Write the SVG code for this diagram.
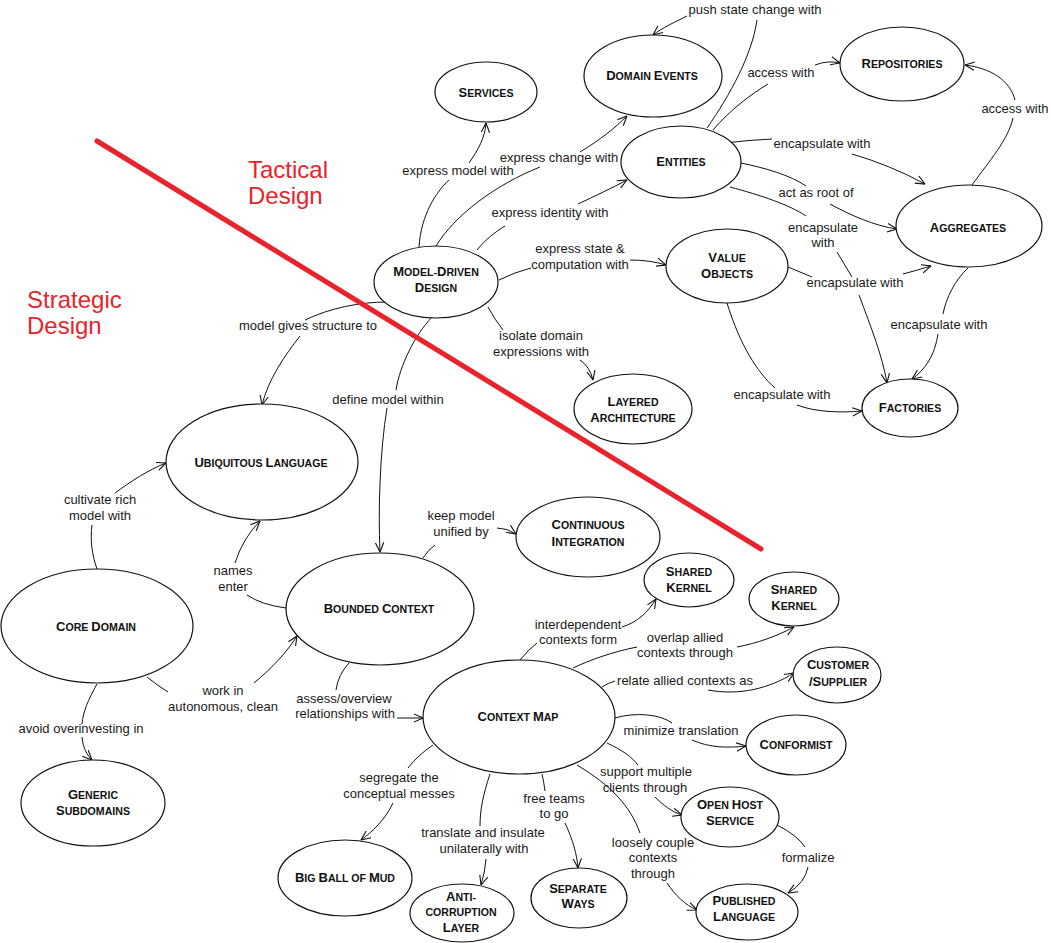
<svg xmlns="http://www.w3.org/2000/svg" width="1051" height="943" viewBox="0 0 1051 943">
<defs>
<marker id="arr" viewBox="0 0 10 10" refX="9.5" refY="5" markerWidth="10" markerHeight="10" markerUnits="userSpaceOnUse" orient="auto">
<path d="M0,0.8 L9.5,5 L0,9.2" fill="none" stroke="#111" stroke-width="1.1"/>
</marker>
<style>
.e{fill:none;stroke:#111;stroke-width:1}
.a{marker-end:url(#arr)}
.l{font-family:"Liberation Sans",Arial,sans-serif;font-size:13px;fill:#1a1a1a;text-anchor:middle}
.nd ellipse{fill:#fff;stroke:#111;stroke-width:1.2}
.n{font-family:"Liberation Sans",Arial,sans-serif;font-size:13px;font-weight:bold;fill:#111;text-anchor:middle}
.s{font-size:10.6px}
.red{font-family:"Liberation Sans",Arial,sans-serif;font-size:24px;fill:#e8232b}
</style>
</defs>
<rect width="1051" height="943" fill="#fff"/>

<g id="connectors">
<g id="e-mdd-services"><path class="e" d="M419,247 C421,215 436,192 449,180"/><path class="e a" d="M469,163 C478,150 485,138 486,123"/><text class="l" x="458" y="175">express model with</text></g>
<g id="e-mdd-events"><path class="e" d="M436,246 C455,215 495,185 540,167"/><path class="e a" d="M580,152 C600,140 615,128 627,116"/><text class="l" x="559" y="162">express change with</text></g>
<g id="e-mdd-entities"><path class="e" d="M477,250 C485,240 495,232 505,226"/><path class="e a" d="M578,204 C595,196 612,188 627,180"/><text class="l" x="550" y="217">express identity with</text></g>
<g id="e-mdd-vo"><path class="e" d="M499,280 Q515,272 531,268"/><path class="e a" d="M630,260 Q650,260 666,265"/><text class="l" x="580" y="253">express state &amp;</text><text class="l" x="580" y="269">computation with</text></g>
<g id="e-mdd-layered"><path class="e" d="M488,307 Q495,320 503,330"/><path class="e a" d="M580,360 Q590,367 593,380"/><text class="l" x="541" y="340">isolate domain</text><text class="l" x="541" y="356">expressions with</text></g>
<g id="e-mdd-ul"><path class="e" d="M387,302 C360,302 330,308 305,320"/><path class="e a" d="M300,336 C285,355 268,380 262,405"/><text class="l" x="308" y="330">model gives structure to</text></g>
<g id="e-mdd-bc"><path class="e" d="M432,317 C415,335 400,365 396,390"/><path class="e a" d="M387,408 C380,450 378,510 380,552"/><text class="l" x="388" y="404">define model within</text></g>
<g id="e-entities-events"><path class="e" d="M707,128 C730,95 752,55 757,20"/><path class="e a" d="M687,16 C675,22 662,28 653,35"/><text class="l" x="755" y="14">push state change with</text></g>
<g id="e-entities-repos"><path class="e" d="M713,130 C730,110 750,95 768,84"/><path class="e a" d="M815,65 Q828,60 840,63"/><text class="l" x="781" y="77">access with</text></g>
<g id="e-entities-agg1"><path class="e" d="M724,143 Q750,140 772,139"/><path class="e a" d="M852,154 Q890,165 925,184"/><text class="l" x="822" y="148">encapsulate with</text></g>
<g id="e-entities-agg2"><path class="e" d="M741,163 C765,168 790,175 806,186"/><path class="e a" d="M830,204 C850,215 875,226 897,229"/><text class="l" x="816" y="197">act as root of</text></g>
<g id="e-entities-factories"><path class="e" d="M730,187 C760,195 790,205 806,216"/><path class="e" d="M837,252 L852,277"/><path class="e a" d="M859,295 C872,330 882,355 887,383"/><text class="l" x="823" y="232">encapsulate</text><text class="l" x="823" y="247">with</text></g>
<g id="e-vo-agg"><path class="e" d="M788,267 Q800,272 812,277"/><path class="e a" d="M903,274 Q918,270 931,266"/><text class="l" x="855" y="287">encapsulate with</text></g>
<g id="e-vo-factories"><path class="e" d="M727,303 C740,345 757,372 775,388"/><path class="e a" d="M797,405 C815,412 840,413 862,411"/><text class="l" x="782" y="399">encapsulate with</text></g>
<g id="e-agg-factories"><path class="e" d="M968,268 C955,280 946,298 943,314"/><path class="e a" d="M938,334 C935,355 925,370 912,379"/><text class="l" x="939" y="329">encapsulate with</text></g>
<g id="e-agg-repos"><path class="e" d="M972,185 C990,160 1008,140 1013,118"/><path class="e a" d="M1015,100 C1010,80 990,68 965,65"/><text class="l" x="1015" y="113">access with</text></g>
<g id="e-core-ul"><path class="e" d="M97,569 C92,555 90,540 92,525"/><path class="e a" d="M115,493 C130,482 148,470 166,463"/><text class="l" x="100" y="504">cultivate rich</text><text class="l" x="100" y="520">model with</text></g>
<g id="e-bc-ul"><path class="e" d="M286,608 Q262,605 247,595"/><path class="e a" d="M235,563 Q243,538 260,521"/><text class="l" x="233" y="575">names</text><text class="l" x="233" y="591">enter</text></g>
<g id="e-core-bc"><path class="e" d="M147,677 Q158,686 168,692"/><path class="e a" d="M254,683 C272,668 287,652 297,636"/><text class="l" x="223" y="695">work in</text><text class="l" x="223" y="711">autonomous, clean</text></g>
<g id="e-core-generic"><path class="e" d="M97,684 C88,700 83,712 82,724"/><path class="e a" d="M82,737 C83,748 87,755 92,760"/><text class="l" x="81" y="733">avoid overinvesting in</text></g>
<g id="e-bc-ci"><path class="e" d="M423,558 Q428,550 435,545"/><path class="e a" d="M497,528 Q507,528 516,534"/><text class="l" x="461" y="520">keep model</text><text class="l" x="461" y="536">unified by</text></g>
<g id="e-bc-cm"><path class="e" d="M349,663 Q338,675 336,690"/><path class="e a" d="M397,718 L423,718"/><text class="l" x="344" y="703">assess/overview</text><text class="l" x="345" y="718">relationships with</text></g>
<g id="e-cm-sk1"><path class="e" d="M520,660 Q528,650 537,643"/><path class="e a" d="M622,627 C638,622 648,612 656,599"/><text class="l" x="578" y="629">interdependent</text><text class="l" x="578" y="644">contexts form</text></g>
<g id="e-cm-sk2"><path class="e" d="M573,668 C590,660 612,652 637,647"/><path class="e a" d="M737,647 C758,643 777,636 794,627"/><text class="l" x="685" y="642">overlap allied</text><text class="l" x="685" y="657">contexts through</text></g>
<g id="e-cm-cs"><path class="e" d="M602,687 Q608,683 615,681"/><path class="e a" d="M708,690 C740,696 770,688 794,673"/><text class="l" x="685" y="685">relate allied contexts as</text></g>
<g id="e-cm-conformist"><path class="e" d="M615,718 C635,712 660,714 672,723"/><path class="e a" d="M692,740 C710,748 728,748 746,746"/><text class="l" x="681" y="735">minimize translation</text></g>
<g id="e-cm-ohs"><path class="e" d="M607,743 C622,750 632,757 638,765"/><path class="e a" d="M655,797 C663,805 672,812 682,815"/><text class="l" x="646" y="776">support multiple</text><text class="l" x="645" y="792">clients through</text></g>
<g id="e-cm-pl"><path class="e" d="M577,765 C610,785 630,805 640,833"/><path class="e a" d="M667,883 C675,895 685,905 697,910"/><text class="l" x="653" y="847">loosely couple</text><text class="l" x="653" y="862">contexts</text><text class="l" x="653" y="878">through</text></g>
<g id="e-cm-sw"><path class="e" d="M542,774 Q544,783 545,791"/><path class="e a" d="M565,823 C573,840 577,855 578,868"/><text class="l" x="554" y="803">free teams</text><text class="l" x="554" y="818">to go</text></g>
<g id="e-cm-acl"><path class="e" d="M490,774 C483,795 480,810 480,826"/><path class="e a" d="M486,859 Q485,872 481,885"/><text class="l" x="483" y="837">translate and insulate</text><text class="l" x="484" y="853">unilaterally with</text></g>
<g id="e-cm-bbom"><path class="e" d="M433,745 Q418,755 408,768"/><path class="e a" d="M393,803 C385,820 372,832 361,840"/><text class="l" x="399" y="782">segregate the</text><text class="l" x="399" y="798">conceptual messes</text></g>
<g id="e-ohs-pl"><path class="e" d="M777,825 Q797,835 805,847"/><path class="e a" d="M808,867 Q805,883 788,893"/><text class="l" x="808" y="862">formalize</text></g>
</g>

<g id="divider">
<line x1="97" y1="141" x2="761" y2="549" stroke="#e8232b" stroke-width="5" stroke-linecap="round"/>
<text class="red" x="248" y="178">Tactical</text><text class="red" x="248" y="204">Design</text>
<text class="red" x="27" y="308">Strategic</text><text class="red" x="27" y="334">Design</text>
</g>

<g id="nodes">
<g id="services" class="nd"><ellipse cx="486" cy="92" rx="51" ry="30"/><text class="n" x="486" y="97">S<tspan class="s">ERVICES</tspan></text></g>
<g id="domain-events" class="nd"><ellipse cx="653" cy="76" rx="69" ry="41"/><text class="n" x="652" y="80">D<tspan class="s">OMAIN </tspan>E<tspan class="s">VENTS</tspan></text></g>
<g id="entities" class="nd"><ellipse cx="681" cy="162" rx="60" ry="36"/><text class="n" x="681" y="166">E<tspan class="s">NTITIES</tspan></text></g>
<g id="repositories" class="nd"><ellipse cx="902" cy="64" rx="62" ry="37"/><text class="n" x="902" y="68">R<tspan class="s">EPOSITORIES</tspan></text></g>
<g id="aggregates" class="nd"><ellipse cx="969" cy="226" rx="73" ry="41"/><text class="n" x="968" y="232">A<tspan class="s">GGREGATES</tspan></text></g>
<g id="value-objects" class="nd"><ellipse cx="727" cy="266" rx="61" ry="37"/><text class="n" x="727" y="262">V<tspan class="s">ALUE</tspan></text><text class="n" x="727" y="278">O<tspan class="s">BJECTS</tspan></text></g>
<g id="model-driven-design" class="nd"><ellipse cx="436" cy="282" rx="62" ry="36"/><text class="n" x="436" y="276">M<tspan class="s">ODEL-</tspan>D<tspan class="s">RIVEN</tspan></text><text class="n" x="436" y="292">D<tspan class="s">ESIGN</tspan></text></g>
<g id="layered-architecture" class="nd"><ellipse cx="633" cy="409" rx="59" ry="35"/><text class="n" x="633" y="406">L<tspan class="s">AYERED</tspan></text><text class="n" x="633" y="422">A<tspan class="s">RCHITECTURE</tspan></text></g>
<g id="factories" class="nd"><ellipse cx="910" cy="408" rx="48" ry="29"/><text class="n" x="910" y="412">F<tspan class="s">ACTORIES</tspan></text></g>
<g id="ubiquitous-language" class="nd"><ellipse cx="262" cy="462" rx="96" ry="58"/><text class="n" x="261" y="467">U<tspan class="s">BIQUITOUS </tspan>L<tspan class="s">ANGUAGE</tspan></text></g>
<g id="bounded-context" class="nd"><ellipse cx="380" cy="609" rx="94" ry="56"/><text class="n" x="379" y="613">B<tspan class="s">OUNDED </tspan>C<tspan class="s">ONTEXT</tspan></text></g>
<g id="core-domain" class="nd"><ellipse cx="97" cy="626" rx="96" ry="57"/><text class="n" x="96" y="631">C<tspan class="s">ORE </tspan>D<tspan class="s">OMAIN</tspan></text></g>
<g id="generic-subdomains" class="nd"><ellipse cx="93" cy="803" rx="72" ry="43"/><text class="n" x="93" y="799">G<tspan class="s">ENERIC</tspan></text><text class="n" x="93" y="815">S<tspan class="s">UBDOMAINS</tspan></text></g>
<g id="continuous-integration" class="nd"><ellipse cx="588" cy="537" rx="72" ry="40"/><text class="n" x="588" y="529">C<tspan class="s">ONTINUOUS</tspan></text><text class="n" x="588" y="546">I<tspan class="s">NTEGRATION</tspan></text></g>
<g id="shared-kernel-1" class="nd"><ellipse cx="689" cy="580" rx="45" ry="27"/><text class="n" x="689" y="576">S<tspan class="s">HARED</tspan></text><text class="n" x="689" y="592">K<tspan class="s">ERNEL</tspan></text></g>
<g id="shared-kernel-2" class="nd"><ellipse cx="794" cy="599" rx="45" ry="27"/><text class="n" x="794" y="594">S<tspan class="s">HARED</tspan></text><text class="n" x="794" y="610">K<tspan class="s">ERNEL</tspan></text></g>
<g id="customer-supplier" class="nd"><ellipse cx="837" cy="675" rx="44" ry="28"/><text class="n" x="838" y="669">C<tspan class="s">USTOMER</tspan></text><text class="n" x="838" y="686">/S<tspan class="s">UPPLIER</tspan></text></g>
<g id="context-map" class="nd"><ellipse cx="519" cy="717" rx="96" ry="57"/><text class="n" x="518" y="721">C<tspan class="s">ONTEXT </tspan>M<tspan class="s">AP</tspan></text></g>
<g id="conformist" class="nd"><ellipse cx="796" cy="745" rx="50" ry="30"/><text class="n" x="796" y="749">C<tspan class="s">ONFORMIST</tspan></text></g>
<g id="open-host-service" class="nd"><ellipse cx="730" cy="817" rx="49" ry="30"/><text class="n" x="730" y="809">O<tspan class="s">PEN </tspan>H<tspan class="s">OST</tspan></text><text class="n" x="730" y="825">S<tspan class="s">ERVICE</tspan></text></g>
<g id="published-language" class="nd"><ellipse cx="747" cy="912" rx="51" ry="28"/><text class="n" x="744" y="905">P<tspan class="s">UBLISHED</tspan></text><text class="n" x="744" y="921">L<tspan class="s">ANGUAGE</tspan></text></g>
<g id="separate-ways" class="nd"><ellipse cx="579" cy="898" rx="48" ry="30"/><text class="n" x="578" y="893">S<tspan class="s">EPARATE</tspan></text><text class="n" x="578" y="908">W<tspan class="s">AYS</tspan></text></g>
<g id="anti-corruption-layer" class="nd"><ellipse cx="462" cy="913" rx="52" ry="29"/><text class="n" x="461" y="901">A<tspan class="s">NTI-</tspan></text><text class="n" x="461" y="916"><tspan class="s">CORRUPTION</tspan></text><text class="n" x="461" y="932">L<tspan class="s">AYER</tspan></text></g>
<g id="big-ball-of-mud" class="nd"><ellipse cx="345" cy="878" rx="67" ry="38"/><text class="n" x="345" y="882">B<tspan class="s">IG </tspan>B<tspan class="s">ALL OF </tspan>M<tspan class="s">UD</tspan></text></g>
</g>
</svg>
